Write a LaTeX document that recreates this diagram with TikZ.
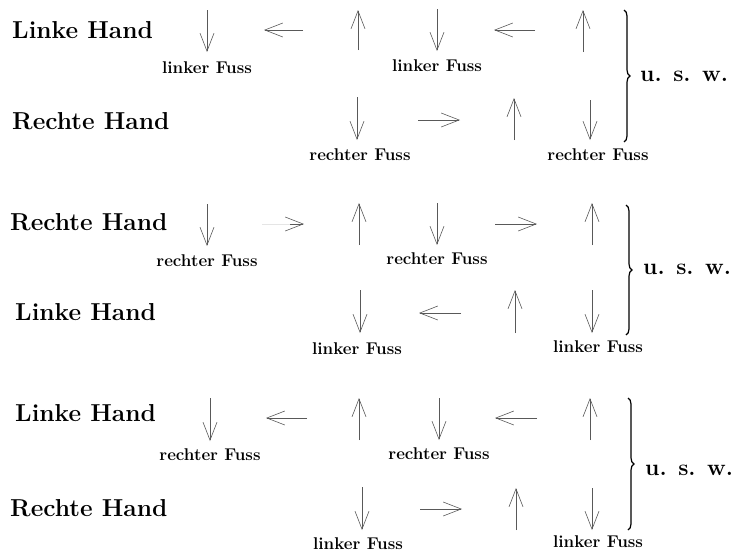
\documentclass[tikz,border=0pt]{standalone}
\usepackage{tikz}
\usetikzlibrary{arrows.meta, positioning, decorations.pathreplacing}

\begin{document}
\begin{tikzpicture}[x=1pt, y=-1pt,
                hand/.style={anchor=west, inner sep=0pt, font=\bfseries\fontsize{24.5}{28}\selectfont},
                fuss/.style={inner sep=0pt, font=\bfseries\fontsize{17}{20}\selectfont},
                usw/.style={anchor=west, inner sep=0pt, font=\bfseries\fontsize{23}{26}\selectfont},
                arr/.style={draw=gray!70!black, line width=0.6pt, -{Straight Barb[length=18pt, width=14pt]}},
                faint/.style={draw=gray!20},
                bracket/.style={decorate, decoration={brace, amplitude=6pt}, line width=1.2pt}
            ]
            \useasboundingbox (0,0) rectangle (738,552);

            % Block 1
            \node[hand] (LH1) at (12,30) {Linke Hand};
            \node[hand] (RH1) at (12,121) {Rechte Hand};
            \coordinate (a1) at (207,10);  \coordinate (a2) at (207,52);
            \coordinate (b1) at (303,30);  \coordinate (b2) at (264,30);
            \coordinate (c1) at (358,50);  \coordinate (c2) at (358,10);
            \coordinate (d1) at (437,9);   \coordinate (d2) at (437,51);
            \coordinate (e1) at (535,30);  \coordinate (e2) at (494,30);
            \coordinate (f1) at (583,52);  \coordinate (f2) at (583,10);
            \coordinate (g1) at (357,97);  \coordinate (g2) at (357,140);
            \coordinate (h1) at (418,120); \coordinate (h2) at (460,120);
            \coordinate (i1) at (514,140); \coordinate (i2) at (514,98);
            \coordinate (j1) at (590,100); \coordinate (j2) at (590,140);
            \draw[arr] (a1) -- (a2);
            \draw[arr] (b1) -- (b2);
            \draw[arr] (c1) -- (c2);
            \draw[arr] (d1) -- (d2);
            \draw[arr] (e1) -- (e2);
            \draw[arr] (f1) -- (f2);
            \draw[arr] (g1) -- (g2);
            \draw[arr] (h1) -- (h2);
            \draw[arr] (i1) -- (i2);
            \draw[arr] (j1) -- (j2);
            \node[fuss, below=9pt of a2] (F1) {linker Fuss};
            \node[fuss, below=8pt of d2] (F2) {linker Fuss};
            \node[fuss, below=8pt of g2, xshift=3pt] (F3) {rechter Fuss};
            \node[fuss, below=8pt of j2, xshift=8pt] (F4) {rechter Fuss};
            \coordinate (k1) at (624,10);  \coordinate (k2) at (624,142);
            \draw[bracket] (k1) -- (k2);
            \node[usw] (U1) at (640,76) {u. s. w.};

            % Block 2
            \node[hand] (RH2) at (10,222) {Rechte Hand};
            \node[hand] (LH2) at (15,312) {Linke Hand};
            \coordinate (m1) at (207,204); \coordinate (m2) at (207,246);
            \coordinate (n1) at (262,224); \coordinate (n2) at (304,224);
            \coordinate (n3) at (290,224);
            \coordinate (o1) at (359,245); \coordinate (o2) at (359,203);
            \coordinate (p1) at (437,203); \coordinate (p2) at (437,245);
            \coordinate (q1) at (495,224); \coordinate (q2) at (537,224);
            \coordinate (r1) at (592,245); \coordinate (r2) at (592,203);
            \coordinate (s1) at (360,290); \coordinate (s2) at (360,333);
            \coordinate (t1) at (461,313); \coordinate (t2) at (419,313);
            \coordinate (u1) at (515,333); \coordinate (u2) at (515,290);
            \coordinate (v1) at (592,290); \coordinate (v2) at (592,333);
            \draw[arr] (m1) -- (m2);
            \draw[faint] (n1) -- (n3);
            \draw[arr] (n3) -- (n2);
            \draw[arr] (o1) -- (o2);
            \draw[arr] (p1) -- (p2);
            \draw[arr] (q1) -- (q2);
            \draw[arr] (r1) -- (r2);
            \draw[arr] (s1) -- (s2);
            \draw[arr] (t1) -- (t2);
            \draw[arr] (u1) -- (u2);
            \draw[arr] (v1) -- (v2);
            \node[fuss, below=8pt of m2] (F5) {rechter Fuss};
            \node[fuss, below=7pt of p2] (F6) {rechter Fuss};
            \node[fuss, below=9pt of s2, xshift=-3pt] (F7) {linker Fuss};
            \node[fuss, below=7pt of v2, xshift=6pt] (F8) {linker Fuss};
            \coordinate (w1) at (626,205); \coordinate (w2) at (626,335);
            \draw[bracket] (w1) -- (w2);
            \node[usw] (U2) at (643,269) {u. s. w.};

            % Block 3
            \node[hand] (LH3) at (15,413) {Linke Hand};
            \node[hand] (RH3) at (10,508) {Rechte Hand};
            \coordinate (A1) at (210,398); \coordinate (A2) at (210,441);
            \coordinate (B1) at (307,418); \coordinate (B2) at (266,418);
            \coordinate (C1) at (359,440); \coordinate (C2) at (359,398);
            \coordinate (D1) at (439,398); \coordinate (D2) at (439,440);
            \coordinate (E1) at (537,418); \coordinate (E2) at (495,418);
            \coordinate (G1) at (590,440); \coordinate (G2) at (590,398);
            \coordinate (H1) at (362,487); \coordinate (H2) at (362,530);
            \coordinate (I1) at (420,509); \coordinate (I2) at (462,509);
            \coordinate (J1) at (516,530); \coordinate (J2) at (516,488);
            \coordinate (K1) at (592,488); \coordinate (K2) at (592,530);
            \draw[arr] (A1) -- (A2);
            \draw[arr] (B1) -- (B2);
            \draw[arr] (C1) -- (C2);
            \draw[arr] (D1) -- (D2);
            \draw[arr] (E1) -- (E2);
            \draw[arr] (G1) -- (G2);
            \draw[arr] (H1) -- (H2);
            \draw[arr] (I1) -- (I2);
            \draw[arr] (J1) -- (J2);
            \draw[arr] (K1) -- (K2);
            \node[fuss, below=7pt of A2] (F9) {rechter Fuss};
            \node[fuss, below=7pt of D2] (F10) {rechter Fuss};
            \node[fuss, below=7pt of H2, xshift=-4pt] (F11) {linker Fuss};
            \node[fuss, below=5pt of K2, xshift=6pt] (F12) {linker Fuss};
            \coordinate (L1) at (628,398); \coordinate (L2) at (628,530);
            \draw[bracket] (L1) -- (L2);
            \node[usw] (U3) at (645,470) {u. s. w.};

        \end{tikzpicture}
\end{document}
